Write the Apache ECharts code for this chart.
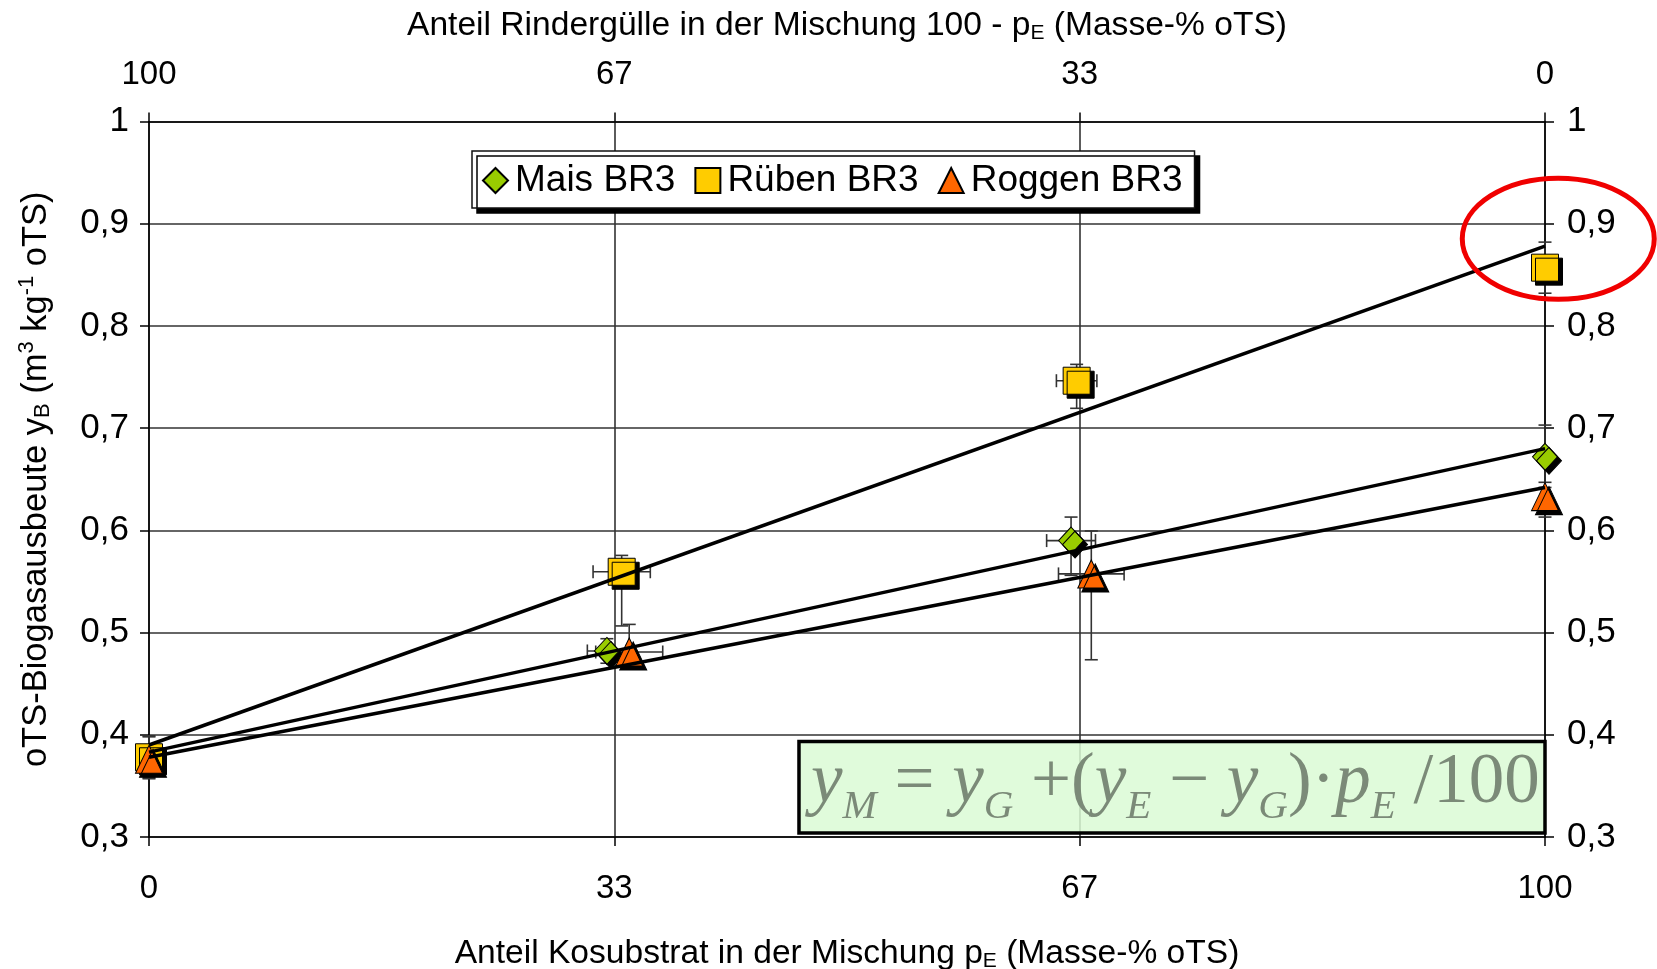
<!DOCTYPE html>
<html><head><meta charset="utf-8">
<script src="https://cdn.jsdelivr.net/npm/echarts@6/dist/echarts.min.js"></script>
<style>html,body{margin:0;padding:0;background:#fff}#c{width:1657px;height:969px}</style>
</head><body><div id="c"></div>
<script>
// ---- data ----
const seriesNames = ['Mais BR3', 'Rüben BR3', 'Roggen BR3'];
const xTickLabels = ['0', '33', '67', '100'];
const yTickLabels = ['0,3', '0,4', '0,5', '0,6', '0,7', '0,8', '0,9', '1'];

const maisX = [0, 32.8, 66.05, 100];
const maisY = [0.378, 0.482, 0.590, 0.672];
const maisXErr = [0, 1.4, 1.75, 0];
const maisYErrPlus = [0.02, 0.012, 0.023, 0.031];
const maisYErrMinus = [0.02, 0.012, 0.034, 0.03];

const ruebenX = [0, 33.86, 66.45, 100];
const ruebenY = [0.378, 0.5595, 0.7464, 0.857];
const ruebenXErr = [0, 2.05, 1.45, 0];
const ruebenYErrPlus = [0.021, 0.016, 0.016, 0.025];
const ruebenYErrMinus = [0.021, 0.053, 0.027, 0.025];

const roggenX = [0, 34.4, 67.5, 100];
const roggenY = [0.376, 0.481, 0.5574, 0.633];
const roggenXErr = [0, 2.4, 2.35, 0];
const roggenYErrPlus = [0.01, 0.027, 0.042, 0.014];
const roggenYErrMinus = [0.01, 0.01, 0.084, 0.02];

const fitX = [0, 100];
const maisFit = [0.383, 0.68];
const ruebenFit = [0.39, 0.878];
const roggenFit = [0.378, 0.642];

// ---- chart ----
const FONT = '"Liberation Sans", Arial, sans-serif';
const SERIF = '"Liberation Serif", "Times New Roman", serif';
const colors = ['#99CC00', '#FFCC00', '#FF6600'];
const symbols = ['diamond', 'rect', 'triangle'];
const symbolSizes = [[25, 27], [27, 27], [27, 28]];

const pts = (xs, ys) => xs.map((x, i) => [x, ys[i]]);
const errs = (xs, ys, xe, yp, ym) => xs.map((x, i) => [x, ys[i], xe[i], yp[i], ym[i]]);

function renderErr(params, api) {
  const x = api.value(0), y = api.value(1), xe = api.value(2), yp = api.value(3), ym = api.value(4);
  const c = api.coord([x, y]);
  const st = { stroke: '#333', lineWidth: 1.6 };
  const cap = 6.5;
  const ch = [];
  const seg = (x1, y1, x2, y2) => ch.push({ type: 'line', shape: { x1, y1, x2, y2 }, style: st });
  if (yp > 0) { const t = api.coord([x, y + yp]); seg(c[0], c[1], t[0], t[1]); seg(t[0] - cap, t[1], t[0] + cap, t[1]); }
  if (ym > 0) { const b = api.coord([x, y - ym]); seg(c[0], c[1], b[0], b[1]); seg(b[0] - cap, b[1], b[0] + cap, b[1]); }
  if (xe > 0) {
    const l = api.coord([x - xe, y]), r = api.coord([x + xe, y]);
    seg(l[0], l[1], r[0], r[1]);
    seg(l[0], l[1] - cap, l[0], l[1] + cap);
    seg(r[0], r[1] - cap, r[0], r[1] + cap);
  }
  return { type: 'group', children: ch };
}

const allErr = [
  errs(maisX, maisY, maisXErr, maisYErrPlus, maisYErrMinus),
  errs(ruebenX, ruebenY, ruebenXErr, ruebenYErrPlus, ruebenYErrMinus),
  errs(roggenX, roggenY, roggenXErr, roggenYErrPlus, roggenYErrMinus)
];
const allPts = [pts(maisX, maisY), pts(ruebenX, ruebenY), pts(roggenX, roggenY)];
const allFit = [pts(fitX, maisFit), pts(fitX, ruebenFit), pts(fitX, roggenFit)];

const series = [];
allErr.forEach((d, i) => series.push({
  type: 'custom', name: seriesNames[i] + ' err', renderItem: renderErr, data: d, z: 2,
  encode: { x: 0, y: 1 }, silent: true
}));
allPts.forEach((d, i) => series.push({
  type: 'scatter', name: seriesNames[i], data: d, symbol: symbols[i], symbolSize: symbolSizes[i], z: 3 + i * 0.1,
  itemStyle: { color: colors[i], borderColor: '#000', borderWidth: 1, opacity: 1,
    shadowColor: '#000', shadowBlur: 0, shadowOffsetX: 4, shadowOffsetY: 4 }
}));
allFit.forEach((d, i) => series.push({
  type: 'line', name: seriesNames[i] + ' fit', data: d, symbol: 'none', z: 5,
  lineStyle: { color: '#000', width: 3.5 }, silent: true
}));

const xLabelStyle = { fontSize: 33, color: '#000', fontFamily: FONT };
const yLabelStyle = { fontSize: 35, color: '#000', fontFamily: FONT };
const xFmt = v => xTickLabels[Math.round(v / (100 / 3))];
const yFmt = v => yTickLabels[Math.round((v - 0.3) / 0.1)];
const axLine = { show: true, onZero: false, lineStyle: { color: '#000', width: 1.5 } };
const axTick = { show: true, length: 9, lineStyle: { color: '#000', width: 1.5 } };
const split = { show: true, lineStyle: { color: '#333', width: 1.6 } };
function nameStyle(fs) {
  const ss = Math.round(fs * 0.63);
  return {
    fontSize: fs, color: '#000', fontFamily: FONT, lineHeight: 40,
    rich: {
      sub: { fontSize: ss, fontFamily: FONT, color: '#000', lineHeight: ss, verticalAlign: 'bottom', padding: [0, 0, 2, 0] },
      sup: { fontSize: ss, fontFamily: FONT, color: '#000', lineHeight: ss, verticalAlign: 'top' }
    }
  };
}

const option = {
  animation: false,
  backgroundColor: '#fff',
  textStyle: { fontFamily: FONT },
  grid: { left: 149, right: 112, top: 121.5, bottom: 132, containLabel: false, outerBoundsMode: 'none' },
  legend: {
    data: seriesNames, left: 472, top: 151, orient: 'horizontal',
    itemWidth: 25, itemHeight: 25, itemGap: 19,
    padding: [11, 12, 9, 10],
    textStyle: { fontSize: 37, color: '#000', fontFamily: FONT, padding: [0, 0, 0, 2] },
    backgroundColor: '#fff', borderColor: '#111', borderWidth: 1.5,
    shadowColor: '#000', shadowBlur: 0, shadowOffsetX: 5, shadowOffsetY: 5
  },
  xAxis: [{
    type: 'value', position: 'bottom', min: 0, max: 100, interval: 100 / 3,
    axisLine: axLine, axisTick: axTick, splitLine: split,
    axisLabel: Object.assign({ margin: 35, formatter: xFmt, showMinLabel: true, showMaxLabel: true }, xLabelStyle),
    name: 'Anteil Kosubstrat in der Mischung p{sub|E} (Masse-% oTS)',
    nameLocation: 'middle', nameGap: 96.5, nameTextStyle: nameStyle(33.6)
  }, {
    type: 'value', position: 'top', inverse: true, min: 0, max: 100, interval: 100 / 3,
    axisLine: axLine, axisTick: axTick, splitLine: { show: false },
    axisLabel: Object.assign({ margin: 30, formatter: xFmt, showMinLabel: true, showMaxLabel: true }, xLabelStyle),
    name: 'Anteil Rindergülle in der Mischung 100 - p{sub|E} (Masse-% oTS)',
    nameLocation: 'middle', nameGap: 76, nameTextStyle: nameStyle(33.6)
  }],
  yAxis: [{
    type: 'value', position: 'left', min: 0.3, max: 1, interval: 0.1,
    axisLine: axLine, axisTick: axTick, splitLine: split,
    axisLabel: Object.assign({ margin: 20, formatter: yFmt, showMinLabel: true, showMaxLabel: true }, yLabelStyle),
    name: 'oTS-Biogasausbeute y{sub|B} (m{sup|3} kg{sup|-1} oTS)',
    nameLocation: 'middle', nameGap: 93, nameTextStyle: nameStyle(34.5)
  }, {
    type: 'value', position: 'right', min: 0.3, max: 1, interval: 0.1,
    axisLine: axLine, axisTick: axTick, splitLine: { show: false },
    axisLabel: Object.assign({ margin: 22, formatter: yFmt, showMinLabel: true, showMaxLabel: true }, yLabelStyle)
  }],
  series: series
};

const chart = echarts.init(document.getElementById('c'));
chart.setOption(option);

// annotations: formula box and red ellipse placed through the axes
const bTL = chart.convertToPixel({ gridIndex: 0 }, [46.56, 0.3934]);
const bBR = chart.convertToPixel({ gridIndex: 0 }, [100, 0.3038]);
const eC = chart.convertToPixel({ gridIndex: 0 }, [100.95, 0.8853]);
const F = 71, S = 41;
const fcol = '#7b8a78';
chart.setOption({
  graphic: [
    {
      type: 'rect', z: 10,
      shape: { x: bTL[0], y: bTL[1], width: bBR[0] - bTL[0], height: bBR[1] - bTL[1] },
      style: { fill: 'rgba(218,250,213,0.85)', stroke: '#000', lineWidth: 3.5 }
    },
    {
      type: 'text', z: 11,
      style: {
        x: bTL[0] + 12, y: (bTL[1] + bBR[1]) / 2 + 5,
        text: '{i|y}{s|M}{n| = }{i|y}{s|G}{n| +(}{i|y}{s|E}{n| − }{i|y}{s|G}{n|)·}{i|p}{s|E}{n| /100}',
        align: 'left', verticalAlign: 'middle', textAlign: 'left', textVerticalAlign: 'middle',
        fill: fcol, font: 'italic ' + F + 'px ' + SERIF,
        rich: {
          i: { fontSize: F, fontFamily: SERIF, fontStyle: 'italic', fill: fcol, color: fcol, lineHeight: F, verticalAlign: 'bottom', padding: [0, 0, 9, 0] },
          n: { fontSize: F, fontFamily: SERIF, fontStyle: 'normal', fill: fcol, color: fcol, lineHeight: F, verticalAlign: 'bottom', padding: [0, 0, 9, 0] },
          s: { fontSize: S, fontFamily: SERIF, fontStyle: 'italic', fill: fcol, color: fcol, lineHeight: S, verticalAlign: 'bottom' }
        }
      }
    },
    {
      type: 'ellipse', z: 12,
      shape: { cx: eC[0], cy: eC[1], rx: 96, ry: 60.5 },
      style: { fill: 'none', stroke: '#F00000', lineWidth: 5 }
    }
  ]
});
</script>
</body></html>
